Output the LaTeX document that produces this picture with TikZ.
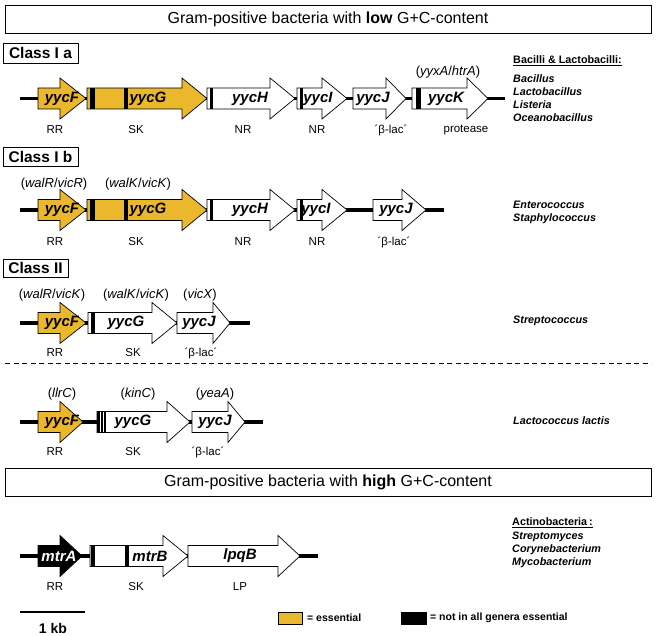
\documentclass[tikz,border=0pt]{standalone}
\usepackage{fontspec}
\setmainfont{Liberation Sans}
\definecolor{ess}{RGB}{235,183,45}
\newcommand{\genearrow}[6]{%
  \filldraw[genebox, fill=#6] (#2,#5-10.5) -- (#3,#5-10.5) -- (#3,#5-20.5) -- (#4,#5) -- (#3,#5+20.5) -- (#3,#5+10.5) -- (#2,#5+10.5) -- cycle;
  \coordinate (#1s) at (#2,#5);
  \coordinate (#1e) at (#4,#5);
}
\newcommand{\genebar}[3]{\fill[black] (#1,#3-10.5) rectangle (#2,#3+10.5);}
\tikzset{
  genebox/.style={draw=black, line width=0.7pt, line join=miter},
  backbone/.style={line width=3.2pt},
  gname/.style={font=\fontsize{15}{15}\selectfont\bfseries\itshape, inner sep=0},
  role/.style={font=\fontsize{11.5}{12}\selectfont, inner sep=0},
  aliasname/.style={font=\fontsize{13}{13}\selectfont, inner sep=0},
  species/.style={font=\fontsize{10.8}{13}\selectfont\bfseries\itshape, anchor=north west, align=left, inner sep=0},
  grouphead/.style={font=\fontsize{10.8}{12}\selectfont\bfseries, anchor=west, inner sep=0},
  legend/.style={font=\fontsize{10.5}{12}\selectfont\bfseries, anchor=west, inner sep=0},
}
\begin{document}
\begin{tikzpicture}[x=1pt, y=-1pt]
\useasboundingbox (0,0) rectangle (656,636);

% headers
\draw[line width=0.8pt] (5,5) rectangle (651,33);
\node[font=\fontsize{16}{16}\selectfont] (h1) at (328,19) {Gram-positive bacteria with \textbf{low} G+C-content};
\draw[line width=0.8pt] (5,468) rectangle (651,496);
\node[font=\fontsize{16}{16}\selectfont] (h2) at (328,482) {Gram-positive bacteria with \textbf{high} G+C-content};

% class boxes
\draw[line width=0.8pt] (3,43) rectangle (78,63);
\node[font=\fontsize{15.5}{16}\selectfont\bfseries] (c1a) at (40.5,53) {Class I a};
\draw[line width=0.8pt] (3,147) rectangle (78,166);
\node[font=\fontsize{15.5}{16}\selectfont\bfseries] (c1b) at (40.5,156.5) {Class I b};
\draw[line width=0.8pt] (3,259) rectangle (68,277);
\node[font=\fontsize{15.5}{16}\selectfont\bfseries] (c2) at (35.5,268) {Class II};

% ---------- Row 1 ----------
\coordinate (r1a) at (20,98.5);
\coordinate (r1b) at (505,98.5);
\draw[backbone] (r1a) -- (r1b);
\genearrow{a1}{38}{60}{86}{98.5}{ess}
\genearrow{a2}{87}{182}{207}{98.5}{ess}
\genebar{90}{95}{98.5}
\genebar{124}{128}{98.5}
\genearrow{a3}{207}{270}{295}{98.5}{white}
\genebar{209.5}{213}{98.5}
\genearrow{a4}{297}{322}{347}{98.5}{white}
\genebar{299.5}{303}{98.5}
\genearrow{a5}{353}{386}{406}{98.5}{white}
\genearrow{a6}{412}{467}{488}{98.5}{white}
\genebar{416}{421}{98.5}
\node[gname] (g1f) at (62,98.5) {yycF};
\node[gname] (g1g) at (148,98.5) {yycG};
\node[gname] (g1h) at (250,98.5) {yycH};
\node[gname] (g1i) at (318,98.5) {yycI};
\node[gname] (g1j) at (373,98.5) {yycJ};
\node[gname] (g1k) at (446,98.5) {yycK};
\node[aliasname] (al1k) at (448,72) {(\textit{yyxA}/\textit{htrA})};
\node[role] (l1a) at (55,130) {RR};
\node[role] (l1b) at (136,130) {SK};
\node[role] (l1c) at (243,130) {NR};
\node[role] (l1d) at (317,130) {NR};
\node[role] (l1e) at (391,130) {´β-lac´};
\node[role] (l1f) at (466,130) {protease};
\node[grouphead] (gh1) at (513,61) {\underline{Bacilli \& Lactobacilli:}};
\node[species] (sp1) at (513,74) {Bacillus\\Lactobacillus\\Listeria\\Oceanobacillus};

% ---------- Row 2 ----------
\coordinate (r2a) at (20,210);
\coordinate (r2b) at (444,210);
\draw[backbone] (r2a) -- (r2b);
\genearrow{b1}{38}{60}{86}{210}{ess}
\genearrow{b2}{87}{182}{207}{210}{ess}
\genebar{90}{95}{210}
\genebar{124}{128}{210}
\genearrow{b3}{207}{270}{295}{210}{white}
\genebar{209.5}{213}{210}
\genearrow{b4}{297}{322}{347}{210}{white}
\genebar{299.5}{303}{210}
\genearrow{b5}{373}{402}{426}{210}{white}
\node[gname] (g2f) at (62,210) {yycF};
\node[gname] (g2g) at (148,210) {yycG};
\node[gname] (g2h) at (250,210) {yycH};
\node[gname] (g2i) at (316,210) {yycI};
\node[gname] (g2j) at (396,210) {yycJ};
\node[aliasname] (al2f) at (54,184) {(\textit{walR}/\textit{vicR})};
\node[aliasname] (al2g) at (138,184) {(\textit{walK}/\textit{vicK})};
\node[role] (l2a) at (55,242) {RR};
\node[role] (l2b) at (136,242) {SK};
\node[role] (l2c) at (243,242) {NR};
\node[role] (l2d) at (317,242) {NR};
\node[role] (l2e) at (394,242) {´β-lac´};
\node[species] (sp2) at (513,201) {Enterococcus\\Staphylococcus};

% ---------- Row 3 ----------
\coordinate (r3a) at (20,323);
\coordinate (r3b) at (250,323);
\draw[backbone] (r3a) -- (r3b);
\genearrow{c1}{38}{60}{86}{323}{ess}
\genearrow{c2}{88}{152}{177}{323}{white}
\genebar{91}{94.5}{323}
\genearrow{c3}{177}{213}{230}{323}{white}
\node[gname] (g3f) at (62,323) {yycF};
\node[gname] (g3g) at (126,323) {yycG};
\node[gname] (g3j) at (199,323) {yycJ};
\node[aliasname] (al3f) at (52,295) {(\textit{walR}/\textit{vicK})};
\node[aliasname] (al3g) at (136,295) {(\textit{walK}/\textit{vicK})};
\node[aliasname] (al3j) at (200,295) {(\textit{vicX})};
\node[role] (l3a) at (55,353) {RR};
\node[role] (l3b) at (133,353) {SK};
\node[role] (l3c) at (201,353) {´β-lac´};
\node[species] (sp3) at (513,316) {Streptococcus};

% dashed separator
\coordinate (da) at (5,363);
\coordinate (db) at (651,363);
\draw[line width=0.8pt, dash pattern=on 5pt off 3.5pt] (da) -- (db);

% ---------- Row 4 ----------
\coordinate (r4a) at (20,422);
\coordinate (r4b) at (263,422);
\draw[backbone] (r4a) -- (r4b);
\genearrow{d1}{38}{60}{83}{422}{ess}
\genearrow{d2}{97}{167}{190}{422}{white}
\genebar{97}{99.8}{422}
\genebar{100.8}{103}{422}
\genebar{104}{106.3}{422}
\genearrow{d3}{192}{228}{245}{422}{white}
\node[gname] (g4f) at (62,422) {yycF};
\node[gname] (g4g) at (133,422) {yycG};
\node[gname] (g4j) at (215,422) {yycJ};
\node[aliasname] (al4f) at (62,394) {(\textit{llrC})};
\node[aliasname] (al4g) at (138,394) {(\textit{kinC})};
\node[aliasname] (al4j) at (215,394) {(\textit{yeaA})};
\node[role] (l4a) at (55,452) {RR};
\node[role] (l4b) at (133,452) {SK};
\node[role] (l4c) at (208,452) {´β-lac´};
\node[species] (sp4) at (513,416) {Lactococcus lactis};

% ---------- Row 5 ----------
\coordinate (r5a) at (20,556);
\coordinate (r5b) at (318,556);
\draw[backbone] (r5a) -- (r5b);
\genearrow{e1}{38}{60}{82}{556}{black}
\genearrow{e2}{90}{163}{188}{556}{white}
\genebar{91}{95}{556}
\genebar{125}{129}{556}
\genearrow{e3}{188}{278}{300}{556}{white}
\node[gname, text=white] (g5a) at (59,556) {mtrA};
\node[gname] (g5b) at (150,556) {mtrB};
\node[gname] (g5c) at (240,556) {lpqB};
\node[role] (l5a) at (55,587) {RR};
\node[role] (l5b) at (136,587) {SK};
\node[role] (l5c) at (240,587) {LP};
\node[grouphead] (gh5) at (512,523) {\underline{Actinobacteria\,:}};
\node[species] (sp5) at (512,532) {Streptomyces\\Corynebacterium\\Mycobacterium};

% scale bar
\coordinate (sba) at (20,612);
\coordinate (sbb) at (85,612);
\draw[line width=2.6pt] (sba) -- (sbb);
\node[font=\fontsize{14}{14}\selectfont\bfseries, inner sep=0] (kb) at (53,628) {1 kb};

% legend
\draw[line width=0.6pt, fill=ess] (278,612) rectangle (302,624);
\node[legend] (le1) at (307,618) {= essential};
\draw[line width=0.6pt, fill=black] (401,612) rectangle (426,624);
\node[legend] (le2) at (430,618) {= not in all genera essential};
\end{tikzpicture}
\end{document}
